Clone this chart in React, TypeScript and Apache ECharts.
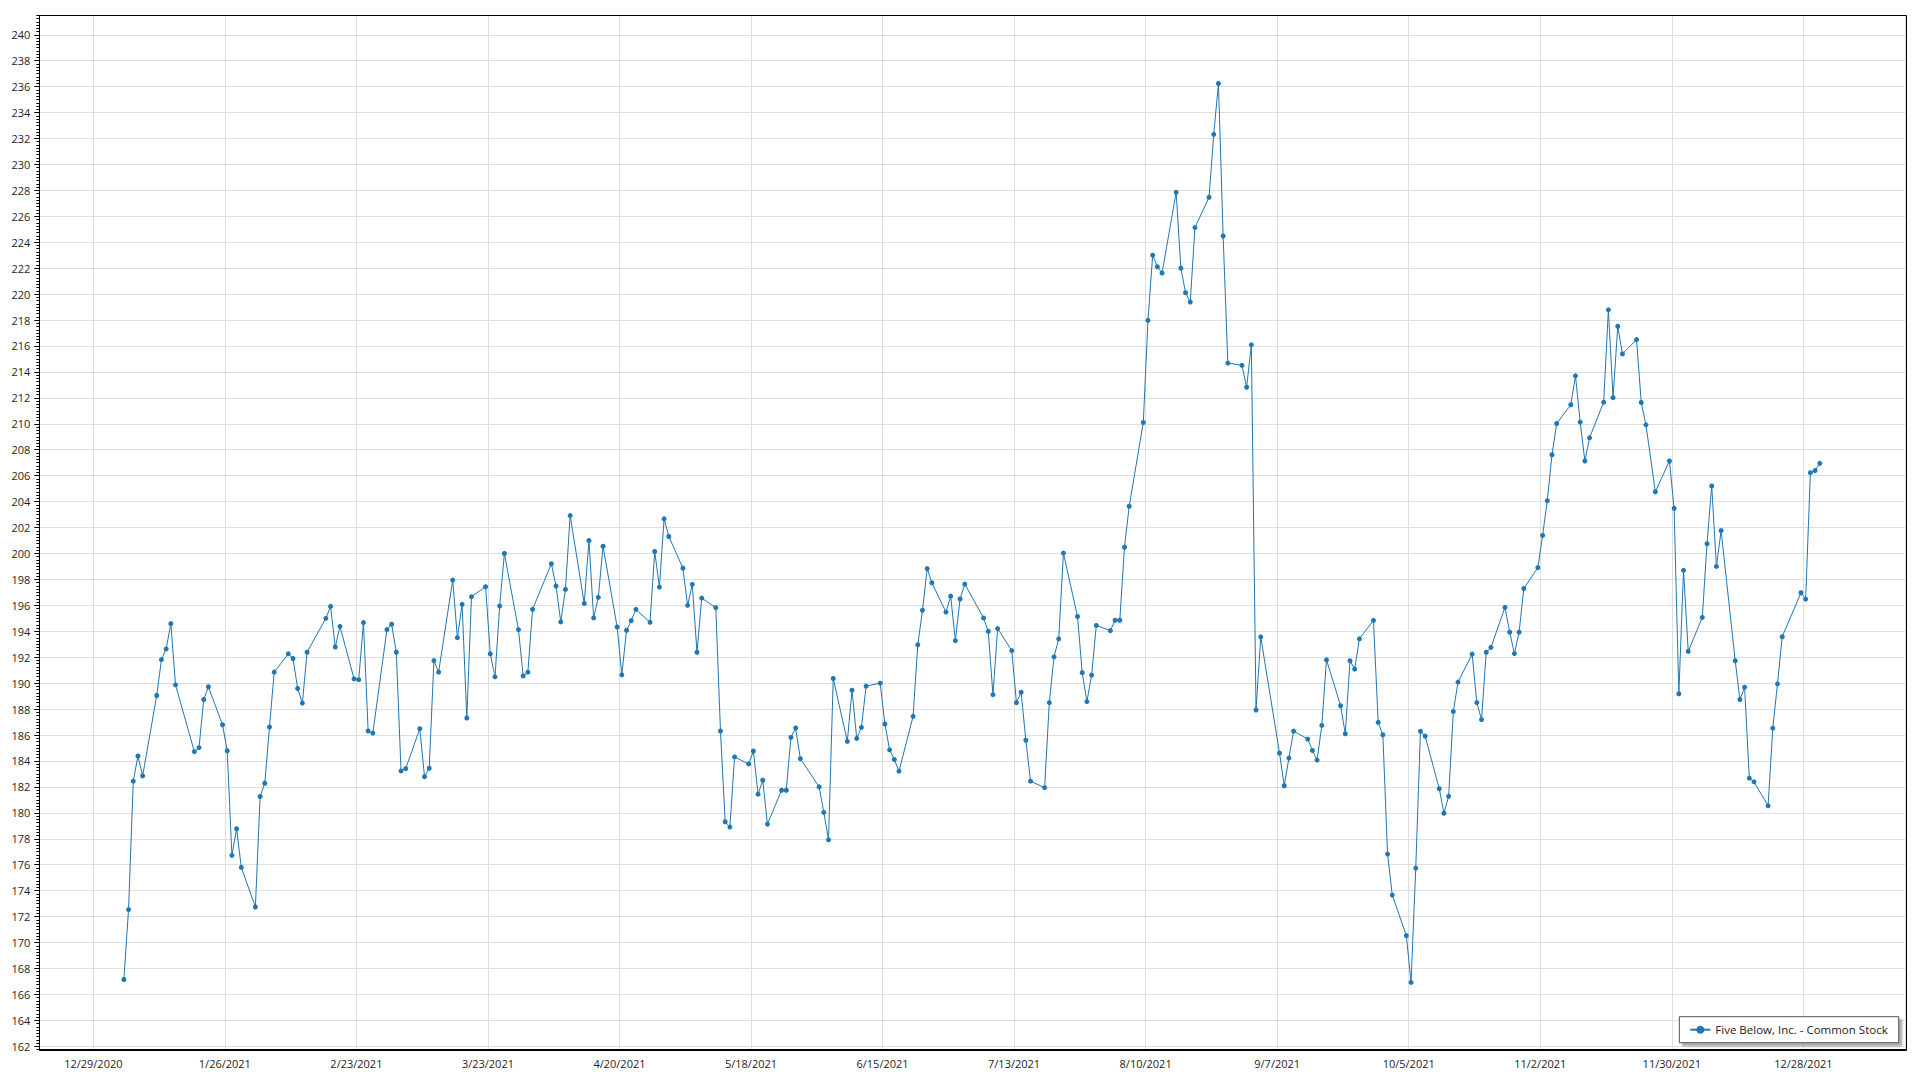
import React, { useEffect, useRef } from 'react';
import * as echarts from 'echarts';

// Daily closing prices, [MM-DD of 2021, close]
const jan: [string, number][] = [
  ['01-04', 167.15], ['01-05', 172.54], ['01-06', 182.44], ['01-07', 184.38], ['01-08', 182.85],
  ['01-11', 189.05], ['01-12', 191.82], ['01-13', 192.64], ['01-14', 194.59], ['01-15', 189.87],
  ['01-19', 184.72], ['01-20', 185.03], ['01-21', 188.74], ['01-22', 189.72],
  ['01-25', 186.79], ['01-26', 184.79], ['01-27', 176.72], ['01-28', 178.77], ['01-29', 175.79],
];
const feb: [string, number][] = [
  ['02-01', 172.74], ['02-02', 181.26], ['02-03', 182.28], ['02-04', 186.62], ['02-05', 190.85],
  ['02-08', 192.26], ['02-09', 191.9], ['02-10', 189.59], ['02-11', 188.46], ['02-12', 192.38],
  ['02-16', 195.0], ['02-17', 195.92], ['02-18', 192.79], ['02-19', 194.38],
  ['02-22', 190.33], ['02-23', 190.27], ['02-24', 194.67], ['02-25', 186.31], ['02-26', 186.15],
];
const mar: [string, number][] = [
  ['03-01', 194.13], ['03-02', 194.54], ['03-03', 192.38], ['03-04', 183.23], ['03-05', 183.41],
  ['03-08', 186.49], ['03-09', 182.79], ['03-10', 183.44], ['03-11', 191.74], ['03-12', 190.85],
  ['03-15', 197.95], ['03-16', 193.51], ['03-17', 196.08], ['03-18', 187.31], ['03-19', 196.67],
  ['03-22', 197.44], ['03-23', 192.26], ['03-24', 190.49], ['03-25', 195.95], ['03-26', 200.0],
  ['03-29', 194.13], ['03-30', 190.56], ['03-31', 190.85],
];
const apr: [string, number][] = [
  ['04-01', 195.69],
  ['04-05', 199.21], ['04-06', 197.49], ['04-07', 194.72], ['04-08', 197.23], ['04-09', 202.92],
  ['04-12', 196.15], ['04-13', 201.0], ['04-14', 195.03], ['04-15', 196.62], ['04-16', 200.56],
  ['04-19', 194.33], ['04-20', 190.64], ['04-21', 194.08], ['04-22', 194.82], ['04-23', 195.69],
  ['04-26', 194.69], ['04-27', 200.15], ['04-28', 197.41], ['04-29', 202.67], ['04-30', 201.31],
];
const may: [string, number][] = [
  ['05-03', 198.87], ['05-04', 196.0], ['05-05', 197.62], ['05-06', 192.38], ['05-07', 196.56],
  ['05-10', 195.82], ['05-11', 186.31], ['05-12', 179.31], ['05-13', 178.9], ['05-14', 184.31],
  ['05-17', 183.77], ['05-18', 184.77], ['05-19', 181.44], ['05-20', 182.51], ['05-21', 179.13],
  ['05-24', 181.74], ['05-25', 181.74], ['05-26', 185.82], ['05-27', 186.54], ['05-28', 184.18],
];
const jun: [string, number][] = [
  ['06-01', 182.0], ['06-02', 180.03], ['06-03', 177.92], ['06-04', 190.36],
  ['06-07', 185.51], ['06-08', 189.46], ['06-09', 185.74], ['06-10', 186.59], ['06-11', 189.77],
  ['06-14', 190.0], ['06-15', 186.85], ['06-16', 184.86], ['06-17', 184.12], ['06-18', 183.21],
  ['06-21', 187.44], ['06-22', 192.96], ['06-23', 195.62], ['06-24', 198.83], ['06-25', 197.74],
  ['06-28', 195.48], ['06-29', 196.71], ['06-30', 193.28],
];
const jul: [string, number][] = [
  ['07-01', 196.49], ['07-02', 197.64],
  ['07-06', 195.03], ['07-07', 194.0], ['07-08', 189.11], ['07-09', 194.21],
  ['07-12', 192.51], ['07-13', 188.5], ['07-14', 189.3], ['07-15', 185.6], ['07-16', 182.44],
  ['07-19', 181.94], ['07-20', 188.5], ['07-21', 192.03], ['07-22', 193.41], ['07-23', 200.03],
  ['07-26', 195.14], ['07-27', 190.81], ['07-28', 188.58], ['07-29', 190.62], ['07-30', 194.45],
];
const aug: [string, number][] = [
  ['08-02', 194.05], ['08-03', 194.85], ['08-04', 194.85], ['08-05', 200.48], ['08-06', 203.64],
  ['08-09', 210.1], ['08-10', 217.98], ['08-11', 223.0], ['08-12', 222.11], ['08-13', 221.63],
  ['08-16', 227.85], ['08-17', 222.0], ['08-18', 220.11], ['08-19', 219.39], ['08-20', 225.13],
  ['08-23', 227.47], ['08-24', 232.32], ['08-25', 236.24], ['08-26', 224.48], ['08-27', 214.68],
  ['08-30', 214.51], ['08-31', 212.82],
];
const sep: [string, number][] = [
  ['09-01', 216.09], ['09-02', 187.93], ['09-03', 193.57],
  ['09-07', 184.61], ['09-08', 182.09], ['09-09', 184.22], ['09-10', 186.3],
  ['09-13', 185.69], ['09-14', 184.81], ['09-15', 184.07], ['09-16', 186.74], ['09-17', 191.8],
  ['09-20', 188.26], ['09-21', 186.1], ['09-22', 191.73], ['09-23', 191.08], ['09-24', 193.42],
  ['09-27', 194.84], ['09-28', 186.97], ['09-29', 186.02], ['09-30', 176.82],
];
const oct: [string, number][] = [
  ['10-01', 173.66],
  ['10-04', 170.53], ['10-05', 166.92], ['10-06', 175.74], ['10-07', 186.29], ['10-08', 185.92],
  ['10-11', 181.86], ['10-12', 179.97], ['10-13', 181.27], ['10-14', 187.81], ['10-15', 190.08],
  ['10-18', 192.24], ['10-19', 188.5], ['10-20', 187.19], ['10-21', 192.38], ['10-22', 192.76],
  ['10-25', 195.85], ['10-26', 193.93], ['10-27', 192.28], ['10-28', 193.93], ['10-29', 197.3],
];
const nov: [string, number][] = [
  ['11-01', 198.91], ['11-02', 201.39], ['11-03', 204.07], ['11-04', 207.61], ['11-05', 210.02],
  ['11-08', 211.47], ['11-09', 213.7], ['11-10', 210.13], ['11-11', 207.13], ['11-12', 208.92],
  ['11-15', 211.67], ['11-16', 218.79], ['11-17', 212.02], ['11-18', 217.52], ['11-19', 215.39],
  ['11-22', 216.49], ['11-23', 211.64], ['11-24', 209.92], ['11-26', 204.76],
  ['11-29', 207.13], ['11-30', 203.48],
];
const dec: [string, number][] = [
  ['12-01', 189.18], ['12-02', 198.7], ['12-03', 192.45],
  ['12-06', 195.07], ['12-07', 200.75], ['12-08', 205.2], ['12-09', 199.0], ['12-10', 201.76],
  ['12-13', 191.73], ['12-14', 188.74], ['12-15', 189.69], ['12-16', 182.67], ['12-17', 182.39],
  ['12-20', 180.54], ['12-21', 186.53], ['12-22', 189.95], ['12-23', 193.58],
  ['12-27', 196.97], ['12-28', 196.48], ['12-29', 206.23], ['12-30', 206.39], ['12-31', 206.95],
];

const SERIES_NAME = 'Five Below, Inc. - Common Stock';

// Axis ranges (x in days since 12/29/2020, tick every 28 days)
const EPOCH = Date.UTC(2020, 11, 29);
const DAY = 86400000;
const X_MIN = -11.5;
const X_MAX = 385.75;
const X_STEP = 28;
const Y_MIN = 161.75;
const Y_MAX = 241.5;
const Y_STEP = 2;
const Y_MINOR = 0.25;

const FONT = '"Open Sans", "Noto Sans", sans-serif';

// plot frame (layout only)
const FRAME = { left: 39.3, right: 14.5, top: 15.3, bottom: 30.5 };

function toDayValue(md: string): number {
  const [m, d] = md.split('-').map(Number);
  // points sit at mid-day of their trading date
  return (Date.UTC(2021, m - 1, d) - EPOCH) / DAY + 0.5;
}

function formatDay(v: number): string {
  const dt = new Date(EPOCH + Math.round(v) * DAY);
  return `${dt.getUTCMonth() + 1}/${dt.getUTCDate()}/${dt.getUTCFullYear()}`;
}

export default function App() {
  const ref = useRef<HTMLDivElement>(null);

  useEffect(() => {
    document.body.style.margin = '0';
    if (!ref.current) return;
    const chart = echarts.init(ref.current, undefined, { renderer: 'svg' });
    const all = [...jan, ...feb, ...mar, ...apr, ...may, ...jun, ...jul, ...aug, ...sep, ...oct, ...nov, ...dec];
    const data = all.map(([md, v]) => [toDayValue(md), v]);

    const W = 1920;
    const H = 1080;
    const fx = Math.round(FRAME.left) + 0.5;
    const fy = Math.round(FRAME.top) + 0.5;
    const fw = Math.round(W - FRAME.right) - Math.round(FRAME.left);
    const fh = Math.round(H - FRAME.bottom) - Math.round(FRAME.top);

    const option: any = {
      animation: false,
      backgroundColor: '#ffffff',
      grid: {
        left: FRAME.left,
        right: FRAME.right,
        top: FRAME.top,
        bottom: FRAME.bottom,
        show: false,
        containLabel: false,
        outerBoundsMode: 'none',
      },
      graphic: [
        {
          type: 'rect',
          silent: true,
          z: 100,
          shape: { x: fx, y: fy, width: fw, height: fh },
          style: { fill: 'none', stroke: '#000000', lineWidth: 1 },
        },
      ],
      legend: {
        show: true,
        data: [SERIES_NAME],
        right: 21.3,
        bottom: 37.3,
        orient: 'horizontal',
        itemWidth: 20,
        itemHeight: 10,
        padding: [7, 11, 7, 10],
        backgroundColor: '#ffffff',
        borderColor: '#555555',
        borderWidth: 1,
        borderRadius: 0,
        shadowColor: 'rgba(0,0,0,0.35)',
        shadowBlur: 2,
        shadowOffsetX: 3,
        shadowOffsetY: 3,
        z: 120,
        textStyle: { fontFamily: FONT, fontSize: 11.5, color: '#222222' },
      },
      xAxis: [
        {
          type: 'value',
          min: X_MIN,
          max: X_MAX,
          splitNumber: 14,
          minInterval: X_STEP,
          maxInterval: X_STEP,
          axisLine: { show: true, onZero: false, lineStyle: { color: '#000000', width: 1 } },
          axisTick: { show: false },
          axisLabel: {
            show: true,
            showMinLabel: false,
            showMaxLabel: false,
            hideOverlap: false,
            margin: 8,
            fontFamily: FONT,
            fontSize: 11,
            color: '#1e1e1e',
            formatter: (v: number) => formatDay(v),
          },
          splitLine: { show: true, lineStyle: { color: '#dedede', width: 1 } },
        },
      ],
      yAxis: [
        {
          type: 'value',
          position: 'left',
          min: Y_MIN,
          max: Y_MAX,
          splitNumber: 40,
          minInterval: Y_STEP,
          maxInterval: Y_STEP,
          axisLine: { show: true, onZero: false, lineStyle: { color: '#000000', width: 1 } },
          axisTick: { show: true, length: 5, lineStyle: { color: '#000000', width: 1 } },
          axisLabel: {
            show: true,
            showMinLabel: false,
            showMaxLabel: false,
            hideOverlap: false,
            margin: 9,
            fontFamily: FONT,
            fontSize: 11,
            color: '#1e1e1e',
            formatter: (v: number) => String(Math.round(v)),
          },
          splitLine: { show: true, lineStyle: { color: '#dedede', width: 1 } },
        },
        {
          type: 'value',
          position: 'left',
          min: Y_MIN,
          max: Y_MAX,
          interval: Y_MINOR,
          axisLine: { show: false, onZero: false },
          axisTick: { show: true, length: 3, lineStyle: { color: '#000000', width: 1 } },
          axisLabel: { show: false },
          splitLine: { show: false },
        },
      ],
      series: [
        {
          name: SERIES_NAME,
          type: 'line',
          xAxisIndex: 0,
          yAxisIndex: 0,
          data,
          symbol: 'circle',
          symbolSize: 5,
          showSymbol: true,
          showAllSymbol: true,
          lineStyle: { color: '#1f77b4', width: 1 },
          itemStyle: { color: '#1f77b4' },
          emphasis: { disabled: true },
        },
      ],
    };

    chart.setOption(option);
    return () => {
      chart.dispose();
    };
  }, []);

  return <div ref={ref} style={{ width: '1920px', height: '1080px' }} />;
}
